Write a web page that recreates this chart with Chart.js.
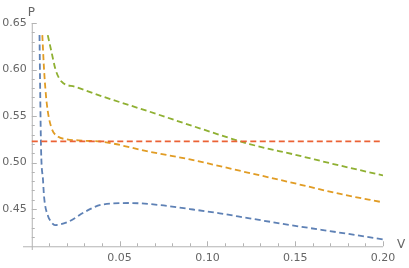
<!DOCTYPE html>
<html>
<head>
<meta charset="utf-8">
<script src="https://cdn.jsdelivr.net/npm/chart.js@4/dist/chart.umd.min.js"></script>
<style>
  html, body { margin: 0; padding: 0; background: #fff; }
  #wrap { width: 409px; height: 268px; }
</style>
</head>
<body>
<div id="wrap"><canvas id="chart"></canvas></div>
<script>
// P-V isotherms, values
const blueV = [0.0044, 0.0048, 0.0053, 0.0064, 0.0070, 0.0094, 0.0104, 0.0132, 0.0208, 0.0303, 0.040, 0.0559, 0.0729, 0.090, 0.107, 0.124, 0.150, 0.175, 0.200];
const blueP = [0.637, 0.575, 0.5134, 0.481, 0.4632, 0.4417, 0.438, 0.4328, 0.4364, 0.4471, 0.4548, 0.4565, 0.4543, 0.450, 0.4454, 0.440, 0.432, 0.4248, 0.4174];

const orangeV = [0.0060, 0.0070, 0.0085, 0.0110, 0.0151, 0.0189, 0.030, 0.040, 0.0672, 0.090, 0.120, 0.150, 0.175, 0.200];
const orangeP = [0.637, 0.5995, 0.564, 0.5385, 0.5277, 0.5253, 0.5235, 0.5224, 0.5116, 0.5034, 0.4905, 0.4775, 0.4665, 0.4572];

const greenV = [0.0091, 0.0114, 0.0136, 0.0170, 0.0246, 0.040, 0.0672, 0.0956, 0.124, 0.150, 0.175, 0.200];
const greenP = [0.637, 0.6174, 0.5995, 0.5869, 0.5815, 0.5712, 0.5546, 0.5368, 0.5199, 0.5084, 0.497, 0.4862];

const redV = [0, 0.2];
const redP = [0.5228, 0.5228];

const xTicks = [0.05, 0.10, 0.15, 0.20];
const yTicks = [0.45, 0.50, 0.55, 0.60, 0.65];
const xMinor = [0.01, 0.02, 0.03, 0.04, 0.06, 0.07, 0.08, 0.09, 0.11, 0.12, 0.13, 0.14, 0.16, 0.17, 0.18, 0.19];
const yMinor = [0.42, 0.43, 0.44, 0.46, 0.47, 0.48, 0.49, 0.51, 0.52, 0.53, 0.54, 0.56, 0.57, 0.58, 0.59, 0.61, 0.62, 0.63, 0.64];
const axisOrigin = [0, 0.41];

function toPoints(xs, ys) {
    return xs.map((x, i) => ({ x: x, y: ys[i] }));
}

function curve(data, color, order) {
    return {
        data: data,
        borderColor: color,
        borderWidth: 1.8,
        borderDash: [6, 3.5],
        pointRadius: 0,
        fill: false,
        cubicInterpolationMode: 'monotone',
        order: order
    };
}

// Mathematica style axes: crossing at axisOrigin, ticks pointing inward
const axesPlugin = {
    id: 'mmaAxes',
    beforeDatasetsDraw(chart) {
        const ctx = chart.ctx;
        const xs = chart.scales.x, ys = chart.scales.y;
        const area = chart.chartArea;
        const x0 = xs.getPixelForValue(axisOrigin[0]);
        const y0 = ys.getPixelForValue(axisOrigin[1]);

        ctx.save();
        ctx.strokeStyle = '#b3b3b3';
        ctx.lineWidth = 1;
        ctx.beginPath();
        ctx.moveTo(area.left, y0 + 0.5);
        ctx.lineTo(area.right, y0 + 0.5);
        ctx.moveTo(x0 + 0.5, area.top);
        ctx.lineTo(x0 + 0.5, area.bottom);
        ctx.stroke();

        ctx.beginPath();
        xTicks.forEach(v => {
            const px = Math.round(xs.getPixelForValue(v)) + 0.5;
            ctx.moveTo(px, y0); ctx.lineTo(px, y0 - 5);
        });
        xMinor.forEach(v => {
            const px = Math.round(xs.getPixelForValue(v)) + 0.5;
            ctx.moveTo(px, y0); ctx.lineTo(px, y0 - 3);
        });
        yTicks.forEach(v => {
            const py = Math.round(ys.getPixelForValue(v)) + 0.5;
            ctx.moveTo(x0, py); ctx.lineTo(x0 + 5, py);
        });
        yMinor.forEach(v => {
            const py = Math.round(ys.getPixelForValue(v)) + 0.5;
            ctx.moveTo(x0, py); ctx.lineTo(x0 + 3, py);
        });
        ctx.stroke();

        ctx.fillStyle = '#666';
        ctx.font = '11px "DejaVu Sans"';
        ctx.textAlign = 'center';
        ctx.textBaseline = 'middle';
        xTicks.forEach(v => {
            ctx.fillText(v.toFixed(2), xs.getPixelForValue(v), y0 + 12);
        });
        ctx.textAlign = 'right';
        yTicks.forEach(v => {
            ctx.fillText(v.toFixed(2), x0 - 5, ys.getPixelForValue(v));
        });

        ctx.font = '12px "DejaVu Sans"';
        ctx.textAlign = 'left';
        ctx.fillText('P', x0 - 4, area.top - 10);
        ctx.fillText('V', area.right + 14, y0 - 1);
        ctx.restore();
    }
};

new Chart(document.getElementById('chart'), {
    type: 'line',
    data: {
        datasets: [
            curve(toPoints(redV, redP), '#eb6235', 0),
            curve(toPoints(blueV, blueP), '#5e81b5', 3),
            curve(toPoints(orangeV, orangeP), '#e19c24', 2),
            curve(toPoints(greenV, greenP), '#8fb032', 1)
        ]
    },
    options: {
        responsive: true,
        maintainAspectRatio: false,
        animation: false,
        layout: { padding: { left: 23, right: 26, top: 23, bottom: 18 } },
        plugins: {
            legend: { display: false },
            tooltip: { enabled: false }
        },
        scales: {
            x: { type: 'linear', min: -0.005, max: 0.2, display: false },
            y: { type: 'linear', min: 0.406, max: 0.65, display: false }
        }
    },
    plugins: [axesPlugin]
});
</script>
</body>
</html>
